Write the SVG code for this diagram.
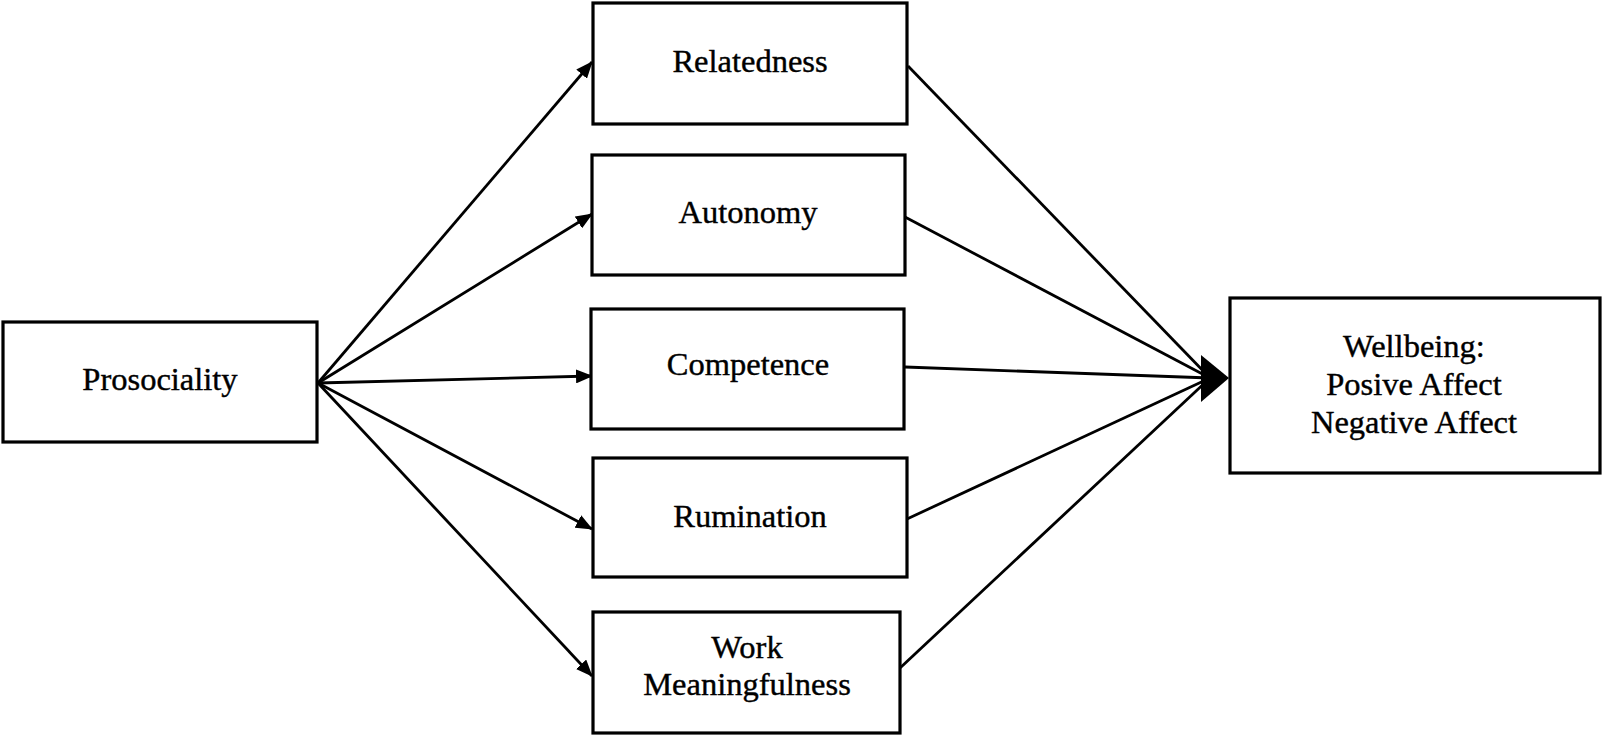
<svg xmlns="http://www.w3.org/2000/svg" width="1605" height="737" viewBox="0 0 1605 737">
<style>
.box{fill:#fff;stroke:#000;stroke-width:3.2}
.lbl{font-family:"Liberation Serif","Times New Roman",serif;font-size:32.5px;fill:#000;stroke:#000;stroke-width:0.4;text-anchor:middle}
.ln{stroke:#000;stroke-width:2.8;fill:none}
</style>
<defs>
<marker id="ah" markerUnits="userSpaceOnUse" markerWidth="18" markerHeight="14" refX="16" refY="7" orient="auto">
<path d="M0,0 L17,7 L0,14 Z" fill="#000"/>
</marker>
</defs>
<rect width="1605" height="737" fill="#fff"/>
<g id="connectors">
<line class="ln" x1="318" y1="383" x2="592" y2="62" marker-end="url(#ah)"/>
<line class="ln" x1="318" y1="383" x2="592" y2="214" marker-end="url(#ah)"/>
<line class="ln" x1="318" y1="383" x2="592" y2="376" marker-end="url(#ah)"/>
<line class="ln" x1="318" y1="383" x2="592" y2="529" marker-end="url(#ah)"/>
<line class="ln" x1="318" y1="383" x2="592" y2="676" marker-end="url(#ah)"/>
<line class="ln" x1="908" y1="66" x2="1210" y2="378"/>
<line class="ln" x1="905" y1="217" x2="1210" y2="378"/>
<line class="ln" x1="905" y1="367" x2="1210" y2="378"/>
<line class="ln" x1="907" y1="519" x2="1210" y2="378"/>
<line class="ln" x1="900" y1="668" x2="1210" y2="378"/>
<polygon points="1229,378 1201,355 1201,402" fill="#000"/>
</g>
<g id="prosociality">
<rect class="box" x="3" y="322" width="314" height="120"/>
<text class="lbl" x="160" y="390">Prosociality</text>
</g>
<g id="relatedness">
<rect class="box" x="593" y="3" width="314" height="121"/>
<text class="lbl" x="750" y="72">Relatedness</text>
</g>
<g id="autonomy">
<rect class="box" x="592" y="155" width="313" height="120"/>
<text class="lbl" x="748" y="223">Autonomy</text>
</g>
<g id="competence">
<rect class="box" x="591" y="309" width="313" height="120"/>
<text class="lbl" x="748" y="375">Competence</text>
</g>
<g id="rumination">
<rect class="box" x="593" y="458" width="314" height="119"/>
<text class="lbl" x="750" y="527">Rumination</text>
</g>
<g id="work-meaningfulness">
<rect class="box" x="593" y="612" width="307" height="121"/>
<text class="lbl" x="747" y="658">Work</text>
<text class="lbl" x="747" y="695">Meaningfulness</text>
</g>
<g id="wellbeing">
<rect class="box" x="1230" y="298" width="370" height="175"/>
<text class="lbl" x="1414" y="357">Wellbeing:</text>
<text class="lbl" x="1414" y="395">Posive Affect</text>
<text class="lbl" x="1414" y="433">Negative Affect</text>
</g>
</svg>
